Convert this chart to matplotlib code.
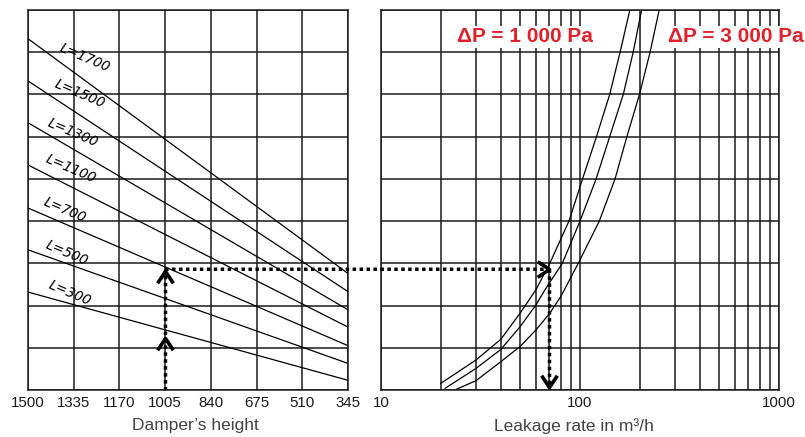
import matplotlib
matplotlib.use('Agg')
import matplotlib.pyplot as plt
from matplotlib.patches import ConnectionPatch
from matplotlib.path import Path
from matplotlib.ticker import FixedLocator, NullFormatter

# --- data ---
damper_height = [1500, 345]
height_ticks = [1500, 1335, 1170, 1005, 840, 675, 510, 345]
length_labels = ['L=1700', 'L=1500', 'L=1300', 'L=1100', 'L=700', 'L=500', 'L=300']
y_at_1500 = [8.32, 7.32, 6.33, 5.33, 4.31, 3.32, 2.32]
y_at_345 = [2.76, 2.33, 1.90, 1.49, 1.05, 0.63, 0.23]
label_x = [1294, 1312, 1338, 1345, 1366, 1359, 1348]
label_y = [7.87, 7.01, 6.09, 5.24, 4.27, 3.25, 2.30]

curve_a_flow = [20, 30, 40, 50, 60, 70.5, 88, 103, 121, 141, 159, 178]
curve_a_y = [0.16, 0.71, 1.20, 1.82, 2.37, 3, 4, 5, 6, 7, 8, 9]
curve_b_flow = [21, 30, 40, 50, 60, 66.6, 81.5, 100, 120.5, 141, 165, 185, 204]
curve_b_y = [0.04, 0.51, 0.96, 1.50, 2.01, 2.37, 3, 4, 5, 6, 7, 8, 9]
curve_c_flow = [24, 30, 40, 50, 60, 70, 80, 98, 125, 150, 172, 199, 225, 250]
curve_c_y = [0.02, 0.22, 0.67, 1.03, 1.42, 1.80, 2.21, 3, 4, 5, 6, 7, 8, 9]

flow_major = [10, 100, 1000]
flow_minor = [20, 30, 40, 50, 60, 70, 80, 90, 200, 300, 400, 500, 600, 700, 800, 900]

# example reading: height 1005 -> L=700 -> leakage 70 m3/h
ex_height = 1005
ex_level = 2.86
ex_flow = 70

RED = '#e3202a'
GRID = '#1a1a1a'

fig = plt.figure(figsize=(8.05, 4.37), dpi=100)
ax1 = fig.add_axes([28 / 805, 47 / 437, 320 / 805, 380 / 437])
ax2 = fig.add_axes([381 / 805, 47 / 437, 398 / 805, 380 / 437])


def chevron(direction):
    if direction == 'up':
        v = [(-1, -1.5), (0, 0), (1, -1.5)]
    elif direction == 'down':
        v = [(-1, 1.5), (0, 0), (1, 1.5)]
    else:
        v = [(-1.5, -1), (0, 0), (-1.5, 1)]
    return Path(v, [Path.MOVETO, Path.LINETO, Path.LINETO])


for ax in (ax1, ax2):
    ax.set_ylim(0, 9)
    ax.set_yticks(range(10))
    ax.set_yticklabels([])
    ax.tick_params(axis='both', which='both', length=0)
    ax.tick_params(axis='x', pad=4, labelsize=10.8, labelcolor='#1a1a1a')
    ax.set_axisbelow(True)
    for s in ax.spines.values():
        s.set_linewidth(1.1)
        s.set_color(GRID)

# left panel
ax1.set_xlim(1500, 345)
ax1.set_xticks(height_ticks)
ax1.set_xticklabels([str(h) for h in height_ticks], family='Liberation Sans')
ax1.grid(True, color=GRID, lw=1.1)
for i in range(len(length_labels)):
    ax1.plot(damper_height, [y_at_1500[i], y_at_345[i]], color='black', lw=0.9)
    ax1.text(label_x[i], label_y[i], length_labels[i], rotation=-23,
             ha='center', va='center', fontsize=9.8, style='italic',
             family='DejaVu Sans', color='black')
ax1.set_xlabel("Damper’s height", family='Liberation Sans', fontsize=12.5,
               color='#444444', va='top')
ax1.xaxis.set_label_coords(0.522, -0.074)

# right panel
ax2.set_xscale('log')
ax2.set_xlim(10, 1000)
ax2.xaxis.set_major_locator(FixedLocator(flow_major))
ax2.xaxis.set_minor_locator(FixedLocator(flow_minor))
ax2.xaxis.set_minor_formatter(NullFormatter())
ax2.set_xticklabels([str(f) for f in flow_major], family='Liberation Sans')
ax2.grid(True, which='both', color=GRID, lw=1.1)
for fx, fy in ((curve_a_flow, curve_a_y), (curve_b_flow, curve_b_y), (curve_c_flow, curve_c_y)):
    ax2.plot(fx, fy, color='black', lw=0.9)
ax2.set_xlabel('Leakage rate in m³/h', family='Liberation Sans', fontsize=12.5,
               color='#444444', va='top')
ax2.xaxis.set_label_coords(0.485, -0.074)

box = dict(facecolor='white', edgecolor='none', pad=1)
ax2.text(24, 8.37, 'ΔP = 1 000 Pa', color=RED, fontsize=15, weight='bold',
         family='Liberation Sans', ha='left', va='center', bbox=box)
ax2.text(276, 8.37, 'ΔP = 3 000 Pa', color=RED, fontsize=15, weight='bold',
         family='Liberation Sans', ha='left', va='center', bbox=box)

# dotted reading path with arrowheads
dots = dict(color='black', lw=2.5, linestyle=(0, (1, 1)))
ax1.plot([ex_height, ex_height], [0, ex_level], clip_on=False,
         dash_capstyle='butt', **dots)
ax2.plot([ex_flow, ex_flow], [ex_level, 0.06], clip_on=False,
         dash_capstyle='butt', **dots)
con = ConnectionPatch(xyA=(ex_height, ex_level), coordsA=ax1.transData,
                      xyB=(ex_flow, ex_level), coordsB=ax2.transData,
                      capstyle='butt', **dots)
fig.add_artist(con)

mk = dict(markersize=17, markerfacecolor='none', markeredgecolor='black',
          markeredgewidth=2.6, linestyle='none', clip_on=False)
ax1.plot([ex_height, ex_height], [1.23, ex_level - 0.03], marker=chevron('up'), **mk)
ax2.plot([ex_flow], [ex_level], marker=chevron('right'), **mk)
ax2.plot([ex_flow], [0.06], marker=chevron('down'), **mk)

fig.savefig('out.png', dpi=100)
